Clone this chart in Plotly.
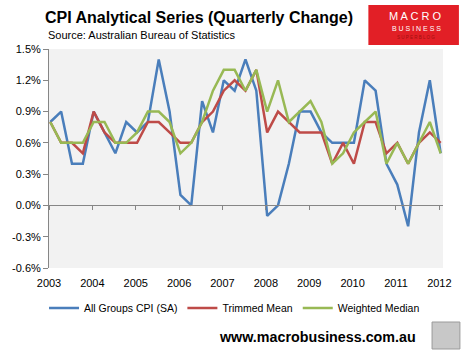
import plotly.graph_objects as go

years = [2003 + 0.03 + 0.25 * i for i in range(37)]
cpi_all = [0.8, 0.9, 0.4, 0.4, 0.9, 0.7, 0.5, 0.8, 0.7, 0.8, 1.4, 0.9, 0.1, 0.0, 1.0, 0.7,
           1.2, 1.1, 1.4, 1.1, -0.1, 0.0, 0.4, 0.9, 0.9, 0.7, 0.6, 0.6, 0.6, 1.2, 1.1, 0.4,
           0.2, -0.2, 0.7, 1.2, 0.5]
trimmed_mean = [0.8, 0.6, 0.6, 0.5, 0.9, 0.7, 0.6, 0.6, 0.6, 0.8, 0.8, 0.7, 0.6, 0.6, 0.8, 0.9,
                1.1, 1.2, 1.1, 1.3, 0.7, 0.9, 0.8, 0.7, 0.7, 0.7, 0.4, 0.6, 0.4, 0.8, 0.8, 0.5,
                0.6, 0.4, 0.6, 0.7, 0.6]
weighted_median = [0.8, 0.6, 0.6, 0.6, 0.8, 0.8, 0.6, 0.6, 0.7, 0.9, 0.9, 0.8, 0.5, 0.6, 0.8, 1.1,
                   1.3, 1.3, 1.1, 1.3, 0.9, 1.2, 0.8, 0.9, 1.0, 0.8, 0.4, 0.5, 0.7, 0.8, 0.9, 0.4,
                   0.6, 0.4, 0.6, 0.8, 0.5]
series_names = ["All Groups CPI (SA)", "Trimmed Mean", "Weighted Median"]
series_colors = ["#4A7EBB", "#BE4B48", "#98B954"]
year_ticks = list(range(2003, 2013))
y_ticks = [-0.6, -0.3, 0.0, 0.3, 0.6, 0.9, 1.2, 1.5]
y_tick_labels = [f"{v:.1f}%" for v in y_ticks]

W, H = 464, 353
L, R, T, B = 47, 443, 49, 268
FONT = "Liberation Sans, Arial, sans-serif"


def px(x):
    return (x - L) / (R - L)


def py(y):
    return (B - y) / (B - T)


fig = go.Figure()
for name, vals, col in zip(series_names, [cpi_all, trimmed_mean, weighted_median], series_colors):
    fig.add_trace(go.Scatter(x=years, y=vals, mode="lines", name=name,
                             line=dict(color=col, width=2.5), cliponaxis=True))
# invisible helper trace so the zero-line axis is drawn
fig.add_trace(go.Scatter(x=[years[0]], y=[0], xaxis="x2", mode="markers",
                         marker=dict(opacity=0), showlegend=False, hoverinfo="skip"))

fig.update_layout(
    width=W, height=H,
    margin=dict(l=L, r=W - R, t=T, b=H - B),
    paper_bgcolor="white", plot_bgcolor="#F2F2F2",
    font=dict(family=FONT, size=11, color="#000000"),
    xaxis=dict(range=[2003, 2012.084], tickvals=year_ticks, ticktext=[str(y) for y in year_ticks],
               showgrid=False, zeroline=False, showline=False, ticks="",
               ticklabelstandoff=7, tickfont=dict(size=11)),
    xaxis2=dict(range=[2003, 2012.084], overlaying="x", anchor="free", position=0.6 / 2.1,
                tickvals=year_ticks, showticklabels=False, ticks="outside", ticklen=4,
                tickcolor="#868686", showline=True, linecolor="#868686", linewidth=1,
                showgrid=False, zeroline=False),
    yaxis=dict(range=[-0.6, 1.5], tickvals=y_ticks, ticktext=y_tick_labels,
               showgrid=False, zeroline=False, showline=True, linecolor="#868686",
               ticks="outside", ticklen=5, tickcolor="#868686", tickfont=dict(size=11)),
    legend=dict(orientation="h", x=px(42), xanchor="left", y=py(308), yanchor="middle",
                font=dict(size=10.5, color="#000000"), bgcolor="rgba(0,0,0,0)",
                itemwidth=30, tracegroupgap=0),
    showlegend=True,
)

ann = []
ann.append(dict(text="<b>CPI Analytical Series (Quarterly Change)</b>", x=px(41), y=py(18),
                xref="paper", yref="paper", xanchor="left", yanchor="middle", showarrow=False,
                font=dict(family=FONT, size=16, color="#000000")))
ann.append(dict(text="Source: Australian Bureau of Statistics", x=px(44), y=py(35),
                xref="paper", yref="paper", xanchor="left", yanchor="middle", showarrow=False,
                font=dict(family=FONT, size=11, color="#000000")))
ann.append(dict(text="M A C R O", x=px(415), y=py(16), xref="paper", yref="paper",
                xanchor="center", yanchor="middle", showarrow=False,
                font=dict(family="Liberation Sans, Arial", size=11, color="white")))
ann.append(dict(text="B U S I N E S S", x=px(416), y=py(28.5), xref="paper", yref="paper",
                xanchor="center", yanchor="middle", showarrow=False,
                font=dict(family="Liberation Sans, Arial", size=7, color="white")))
ann.append(dict(text="S U P E R B L O G", x=px(416), y=py(38), xref="paper", yref="paper",
                xanchor="center", yanchor="middle", showarrow=False,
                font=dict(family="Liberation Sans, Arial", size=4.5, color="#A01010")))
ann.append(dict(text="<b>www.macrobusiness.com.au</b>", x=px(317), y=py(337), xref="paper", yref="paper",
                xanchor="center", yanchor="middle", showarrow=False,
                font=dict(family=FONT, size=14.3, color="#000000")))
fig.update_layout(annotations=ann)

shapes = []
shapes.append(dict(type="rect", xref="paper", yref="paper", x0=px(368), x1=px(459), y0=py(45), y1=py(5),
                   fillcolor="#E21F26", line=dict(width=0), layer="below"))
shapes.append(dict(type="rect", xref="paper", yref="paper", x0=px(432), x1=px(460), y0=py(349), y1=py(322),
                   fillcolor="#C8C8C8", line=dict(color="#9A9A9A", width=1)))
fig.update_layout(shapes=shapes)

fig.write_html("out.html")
